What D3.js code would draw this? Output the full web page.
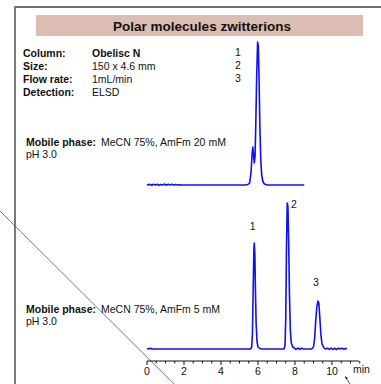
<!DOCTYPE html>
<html><head><meta charset="utf-8">
<script src="https://cdn.jsdelivr.net/npm/d3@7"></script>
<style>
html,body{margin:0;padding:0;background:#fff;}
svg{display:block;font-family:"Liberation Sans",Arial,sans-serif;}
</style></head>
<body><svg id="c" width="381" height="384"></svg>
<script>
// ---- data ----
const title = "Polar molecules zwitterions";
const infoLabels = ["Column:", "Size:", "Flow rate:", "Detection:"];
const infoValues = ["Obelisc N", "150 x 4.6 mm", "1mL/min", "ELSD"];
const compoundNumbers = ["1", "2", "3"];
const mobilePhaseTop = ["MeCN 75%, AmFm 20 mM", "pH 3.0"];
const mobilePhaseBottom = ["MeCN 75%, AmFm 5 mM", "pH 3.0"];
const xTicks = [0, 2, 4, 6, 8, 10];
const xUnit = "min";
// top trace (20 mM): [time min, signal]
const traceTop = [
  [0,0],[0.15,0.6],[0.25,-0.3],[0.35,0.7],[0.45,0],[0.55,0.8],[0.65,-0.2],[0.75,0.6],[0.85,0.1],[0.95,0.9],[1.05,-0.2],[1.15,0.7],
  [1.25,0],[1.35,0.8],[1.45,-0.1],[1.55,0.6],[1.65,0],[1.75,0.3],[1.85,0],
  [3,0],[4.5,0],[5.3,0],[5.45,0.5],[5.55,2],[5.62,12],[5.68,30],[5.72,38],[5.76,30],[5.8,22],[5.84,28],[5.88,60],
  [5.93,110],[5.98,143],[6.02,138],[6.06,105],[6.1,60],[6.15,25],[6.2,10],[6.27,3],[6.35,1],[6.5,0],[7.5,0],[8.5,0]
];
// bottom trace (5 mM)
const traceBottom = [
  [0,0],[0.2,0.6],[0.3,0],[1,0],[3,0],[5,0],[5.6,0],[5.66,2],[5.7,15],[5.74,60],[5.78,100],[5.8,106],[5.83,95],[5.86,60],
  [5.9,25],[5.95,7],[6.0,2],[6.1,0.5],[6.2,0],[7.0,0],[7.4,0],[7.46,3],[7.5,30],[7.54,100],[7.58,146],[7.62,142],
  [7.66,105],[7.7,55],[7.75,18],[7.8,6],[7.88,2],[8.0,0.5],[8.05,-0.5],[8.15,1],[8.25,-0.4],[8.35,0.8],[8.45,0],
  [8.9,0],[9.0,2],[9.06,10],[9.12,28],[9.18,42],[9.24,48],[9.29,46],[9.34,32],[9.4,14],[9.46,5],[9.55,1.5],[9.65,0],
  [9.75,0.8],[9.85,-0.4],[9.95,0.9],[10.05,-0.3],[10.15,0.7],[10.25,-0.5],[10.35,0.8],[10.45,0],[10.55,0.7],[10.65,-0.3],[10.75,0.6],[10.8,0]
];
const peakLabels = [
  {label:"1", t:5.55, s:119},
  {label:"2", t:7.78, s:141},
  {label:"3", t:8.97, s:63}
];

// ---- drawing ----
const svg = d3.select("#c");
const x = d3.scaleLinear().domain([0, 11.46]).range([147, 359]);
const yTop = d3.scaleLinear().domain([0, 150]).range([185, 35]);
const yBot = d3.scaleLinear().domain([0, 150]).range([349, 199]);
const FS = 10.5;

// frame
svg.append("line").attr("x1",15).attr("y1",7).attr("x2",381).attr("y2",7).attr("stroke","#6e6e6e").attr("stroke-width",2);
svg.append("line").attr("x1",15).attr("y1",6).attr("x2",15).attr("y2",384).attr("stroke","#7a7a7a").attr("stroke-width",2);

// diagonal thin line
svg.append("line").attr("x1",0).attr("y1",211).attr("x2",175).attr("y2",385).attr("stroke","#555").attr("stroke-width",0.8);

// title box
svg.append("rect").attr("x",36).attr("y",15).attr("width",327).attr("height",21).attr("fill","#dcbdb2");
svg.append("text").attr("x",202).attr("y",30.5).attr("text-anchor","middle").attr("font-size",13.5).attr("font-weight","bold").attr("fill","#111").text(title);

// info block
infoLabels.forEach((l,i)=>{
  svg.append("text").attr("x",23).attr("y",57+i*13).attr("font-size",FS).attr("font-weight","bold").attr("fill","#111").text(l);
  svg.append("text").attr("x",92).attr("y",57+i*13).attr("font-size",FS).attr("font-weight",i===0?"bold":"normal").attr("fill","#111").text(infoValues[i]);
});
compoundNumbers.forEach((n,i)=>{
  svg.append("text").attr("x",235).attr("y",56+i*13).attr("font-size",FS).attr("fill","#111").text(n);
});

function mobile(yb, lines){
  const t = svg.append("text").attr("x",26).attr("y",yb).attr("font-size",FS).attr("fill","#111");
  t.append("tspan").attr("font-weight","bold").text("Mobile phase:");
  t.append("tspan").attr("dx",5).text(lines[0]);
  svg.append("text").attr("x",26).attr("y",yb+11.5).attr("font-size",FS).attr("fill","#111").text(lines[1]);
}
mobile(146, mobilePhaseTop);
mobile(313, mobilePhaseBottom);

// traces
const lineTop = d3.line().x(d=>x(d[0])).y(d=>yTop(d[1]));
const lineBot = d3.line().x(d=>x(d[0])).y(d=>yBot(d[1]));
svg.append("path").attr("d",lineTop(traceTop)).attr("fill","none").attr("stroke","#1010f0").attr("stroke-width",1.6).attr("stroke-linejoin","round");
svg.append("path").attr("d",lineBot(traceBottom)).attr("fill","none").attr("stroke","#1010f0").attr("stroke-width",1.6).attr("stroke-linejoin","round");

peakLabels.forEach(p=>{
  svg.append("text").attr("x",x(p.t)).attr("y",yBot(p.s)).attr("font-size",FS).attr("fill","#111").text(p.label);
});

// axis
const axisG = svg.append("g").attr("transform","translate(0,361)");
const minor = d3.range(0, 11.51, 0.5);
axisG.append("line").attr("x1",x(0)).attr("x2",x(11.46)).attr("stroke","#111").attr("stroke-width",1);
axisG.selectAll(".mn").data(minor).join("line").attr("x1",d=>x(d)).attr("x2",d=>x(d)).attr("y1",0).attr("y2",d=>xTicks.includes(d)?4:2.5).attr("stroke","#111").attr("stroke-width",1);
axisG.selectAll(".tl").data(xTicks).join("text").attr("x",d=>x(d)).attr("y",14).attr("text-anchor","middle").attr("font-size",FS).attr("fill","#111").text(d=>d);
svg.append("text").attr("x",353).attr("y",373).attr("font-size",FS).attr("fill","#111").text(xUnit);

// small pointer arrow
svg.append("line").attr("x1",345.5).attr("y1",377).attr("x2",350).attr("y2",384).attr("stroke","#222").attr("stroke-width",0.8);
svg.append("path").attr("d","M345,376 L348,378 L346,379.5 Z").attr("fill","#222");
</script></body></html>
